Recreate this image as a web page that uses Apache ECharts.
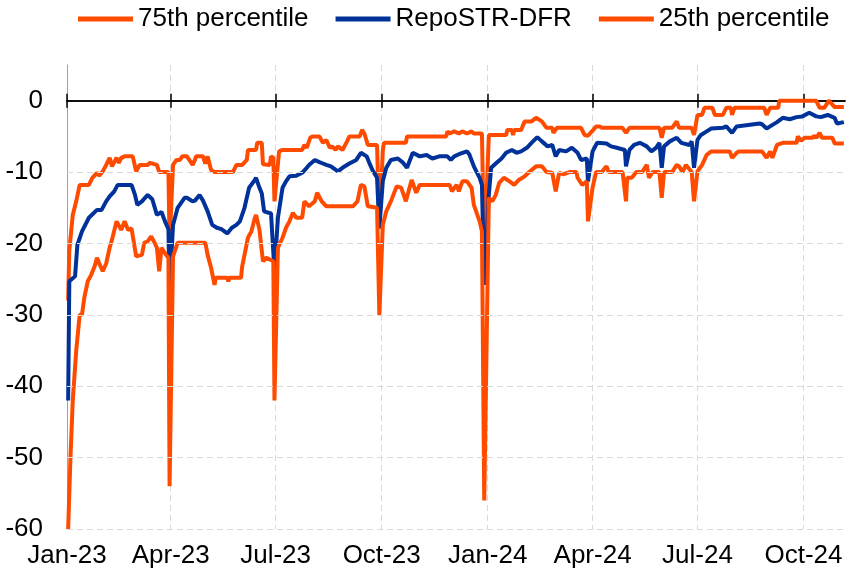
<!DOCTYPE html>
<html>
<head>
<meta charset="utf-8">
<script src="https://cdn.jsdelivr.net/npm/echarts@6/dist/echarts.min.js"></script>
<style>
  html, body { margin: 0; padding: 0; background: #fff; }
  #chart { width: 850px; height: 574px; }
</style>
</head>
<body>
<div id="chart"></div>
<script>
// series names (legend order)
var seriesNames = ['75th percentile', 'RepoSTR-DFR', '25th percentile'];
var monthNames = ['Jan','Feb','Mar','Apr','May','Jun','Jul','Aug','Sep','Oct','Nov','Dec'];
var quarterMonths = ['01', '04', '07', '10'];
var firstDay = '2023-01-01';
var lastDay = '2024-11-06';
var yGridValues = [-10, -20, -30, -40, -50, -60];

// 75th percentile, basis points
var p75 = [
	['2023-01-02', -28], ['2023-01-03', -21], ['2023-01-06', -16], ['2023-01-09', -14.1], ['2023-01-12', -11.8],
	['2023-01-20', -11.8], ['2023-01-23', -10.8], ['2023-01-27', -10.1], ['2023-01-29', -10.5], ['2023-02-01', -9.9],
	['2023-02-04', -9], ['2023-02-07', -8], ['2023-02-09', -9.2], ['2023-02-13', -8], ['2023-02-15', -8.7],
	['2023-02-17', -8], ['2023-02-20', -7.8], ['2023-02-27', -7.8], ['2023-03-02', -9.9], ['2023-03-05', -9],
	['2023-03-12', -9], ['2023-03-14', -8.7], ['2023-03-20', -9], ['2023-03-22', -10], ['2023-03-30', -10],
	['2023-03-31', -20], ['2023-04-03', -9], ['2023-04-06', -8.3], ['2023-04-09', -8.3], ['2023-04-11', -7.8],
	['2023-04-15', -7.8], ['2023-04-20', -9], ['2023-04-22', -8.3], ['2023-04-23', -7.8], ['2023-04-29', -7.8],
	['2023-05-01', -8.8], ['2023-05-03', -7.8], ['2023-05-06', -9.7], ['2023-05-09', -10], ['2023-05-25', -10],
	['2023-05-28', -9], ['2023-06-02', -9], ['2023-06-06', -8.3], ['2023-06-07', -6.9], ['2023-06-14', -6.9],
	['2023-06-15', -5.9], ['2023-06-19', -5.9], ['2023-06-20', -8.9], ['2023-06-26', -9], ['2023-06-27', -7.8],
	['2023-06-29', -8], ['2023-06-30', -14.1], ['2023-07-04', -7.1], ['2023-07-07', -6.9], ['2023-07-24', -6.9],
	['2023-07-26', -6.2], ['2023-07-28', -6.6], ['2023-07-31', -5.2], ['2023-08-02', -5], ['2023-08-08', -5],
	['2023-08-11', -5.9], ['2023-08-14', -5.5], ['2023-08-17', -6.6], ['2023-08-19', -6.4], ['2023-08-22', -6.9],
	['2023-08-24', -6.4], ['2023-08-28', -6.9], ['2023-09-01', -5.7], ['2023-09-03', -5], ['2023-09-12', -5],
	['2023-09-14', -4.1], ['2023-09-16', -4.6], ['2023-09-19', -6.2], ['2023-09-27', -6.2], ['2023-09-29', -18],
	['2023-10-02', -7], ['2023-10-03', -5.9], ['2023-10-22', -5.9], ['2023-10-23', -5], ['2023-11-26', -5],
	['2023-11-27', -4.3], ['2023-11-29', -4.6], ['2023-12-03', -4.3], ['2023-12-07', -4.6], ['2023-12-10', -4.3],
	['2023-12-14', -4.6], ['2023-12-18', -4.3], ['2023-12-20', -4.6], ['2023-12-27', -4.6], ['2023-12-29', -22],
	['2024-01-02', -4.8], ['2024-01-17', -4.8], ['2024-01-18', -4.1], ['2024-01-22', -4.1], ['2024-01-23', -4.8],
	['2024-01-24', -4.1], ['2024-01-30', -4.1], ['2024-02-02', -2.9], ['2024-02-08', -2.9], ['2024-02-12', -2.4],
	['2024-02-17', -2.9], ['2024-02-21', -3.8], ['2024-02-26', -3.8], ['2024-02-27', -4.5], ['2024-03-01', -3.8],
	['2024-03-22', -3.8], ['2024-03-25', -4.8], ['2024-03-28', -4.9], ['2024-04-01', -4.2], ['2024-04-04', -3.6],
	['2024-04-07', -3.6], ['2024-04-09', -3.8], ['2024-04-27', -3.8], ['2024-04-30', -4.5], ['2024-05-03', -3.8],
	['2024-05-29', -3.8], ['2024-05-31', -5.2], ['2024-06-02', -3.8], ['2024-06-09', -3.8], ['2024-06-13', -2.9],
	['2024-06-15', -3.8], ['2024-06-26', -3.8], ['2024-06-28', -4.8], ['2024-07-01', -2], ['2024-07-05', -2],
	['2024-07-07', -1], ['2024-07-14', -1], ['2024-07-16', -2], ['2024-07-23', -2], ['2024-07-26', -1],
	['2024-07-30', -1], ['2024-07-31', -2], ['2024-08-02', -1], ['2024-08-28', -1], ['2024-08-30', -2],
	['2024-09-02', -1], ['2024-09-09', -1], ['2024-09-10', 0], ['2024-10-12', 0], ['2024-10-15', -1],
	['2024-10-19', -1], ['2024-10-23', 0], ['2024-10-28', -0.9], ['2024-11-05', -0.9]
];

// RepoSTR minus deposit facility rate
var repo = [
	['2023-01-02', -42], ['2023-01-03', -25.3], ['2023-01-08', -24.6], ['2023-01-10', -20.2], ['2023-01-14', -18.3],
	['2023-01-20', -16.4], ['2023-01-27', -15.3], ['2023-01-31', -15.3], ['2023-02-04', -14.1], ['2023-02-07', -13.4],
	['2023-02-11', -12.7], ['2023-02-14', -11.8], ['2023-02-26', -11.8], ['2023-03-01', -13.2], ['2023-03-03', -14.6],
	['2023-03-07', -14.1], ['2023-03-12', -13.2], ['2023-03-16', -13.8], ['2023-03-20', -16], ['2023-03-24', -15.6],
	['2023-03-27', -16.9], ['2023-03-30', -18], ['2023-03-31', -26.5], ['2023-04-03', -17.4], ['2023-04-07', -15],
	['2023-04-13', -13.6], ['2023-04-15', -13.6], ['2023-04-20', -14.1], ['2023-04-22', -14], ['2023-04-26', -13.2],
	['2023-04-29', -14], ['2023-05-03', -15.5], ['2023-05-07', -17.4], ['2023-05-11', -17.8], ['2023-05-15', -18],
	['2023-05-20', -18.6], ['2023-05-24', -17.8], ['2023-05-28', -17.4], ['2023-05-31', -16.9], ['2023-06-04', -15],
	['2023-06-08', -12.2], ['2023-06-13', -11.1], ['2023-06-14', -10.8], ['2023-06-17', -12.2], ['2023-06-19', -13],
	['2023-06-21', -15.5], ['2023-06-27', -15.8], ['2023-06-30', -23.9], ['2023-07-03', -16.4], ['2023-07-07', -12.2],
	['2023-07-10', -11.3], ['2023-07-13', -10.6], ['2023-07-19', -10.5], ['2023-07-24', -10.1], ['2023-07-28', -9.4],
	['2023-07-30', -9], ['2023-08-04', -8.3], ['2023-08-08', -8.6], ['2023-08-11', -8.8], ['2023-08-14', -9],
	['2023-08-18', -9.2], ['2023-08-24', -9.9], ['2023-08-28', -9.4], ['2023-09-03', -8.8], ['2023-09-09', -8.3],
	['2023-09-13', -7.3], ['2023-09-18', -7.8], ['2023-09-20', -8.6], ['2023-09-23', -9.7], ['2023-09-27', -10.8],
	['2023-09-29', -17.8], ['2023-10-02', -11.3], ['2023-10-05', -9.4], ['2023-10-09', -8.3], ['2023-10-15', -8.1],
	['2023-10-19', -8.6], ['2023-10-23', -9.4], ['2023-10-28', -7.3], ['2023-11-03', -7.8], ['2023-11-09', -7.6],
	['2023-11-14', -8.1], ['2023-11-20', -7.8], ['2023-11-27', -7.8], ['2023-11-30', -8.3], ['2023-12-03', -7.8],
	['2023-12-07', -7.5], ['2023-12-14', -7.1], ['2023-12-16', -7.5], ['2023-12-20', -9.2], ['2023-12-25', -10.8],
	['2023-12-27', -11.8], ['2023-12-29', -25.8], ['2024-01-02', -13.2], ['2024-01-04', -9.4], ['2024-01-08', -8.8],
	['2024-01-13', -8.1], ['2024-01-17', -7.3], ['2024-01-22', -6.9], ['2024-01-26', -7.3], ['2024-01-30', -7.1],
	['2024-02-04', -6.6], ['2024-02-08', -5.9], ['2024-02-13', -5.1], ['2024-02-17', -5.7], ['2024-02-22', -6.4],
	['2024-02-26', -6.2], ['2024-02-29', -7.8], ['2024-03-03', -6.9], ['2024-03-09', -7.1], ['2024-03-14', -6.6],
	['2024-03-19', -7.3], ['2024-03-22', -8.3], ['2024-03-27', -8.1], ['2024-03-28', -11.3], ['2024-04-01', -7.1],
	['2024-04-05', -5.9], ['2024-04-13', -6], ['2024-04-17', -6.4], ['2024-04-22', -6.6], ['2024-04-29', -6.9],
	['2024-04-30', -9.2], ['2024-05-03', -6.9], ['2024-05-07', -6.2], ['2024-05-12', -5.9], ['2024-05-18', -6.4],
	['2024-05-22', -7.1], ['2024-05-26', -6.6], ['2024-05-29', -5.9], ['2024-05-31', -9.4], ['2024-06-02', -6.4],
	['2024-06-07', -5.7], ['2024-06-13', -5.2], ['2024-06-17', -5.9], ['2024-06-24', -6.2], ['2024-06-26', -5.7],
	['2024-06-28', -9.4], ['2024-07-01', -5.5], ['2024-07-04', -4.8], ['2024-07-09', -4.3], ['2024-07-13', -3.9],
	['2024-07-23', -3.8], ['2024-07-26', -3.6], ['2024-07-31', -4.5], ['2024-08-04', -3.6], ['2024-08-24', -3.2],
	['2024-08-26', -3.3], ['2024-08-30', -3.9], ['2024-09-02', -3.6], ['2024-09-08', -3], ['2024-09-13', -2.4],
	['2024-09-19', -2.6], ['2024-09-25', -2.3], ['2024-09-30', -2.2], ['2024-10-06', -1.7], ['2024-10-12', -2.2],
	['2024-10-16', -2.3], ['2024-10-22', -2], ['2024-10-28', -2.4], ['2024-10-30', -3.2], ['2024-11-05', -3]
];

// 25th percentile
var p25 = [
	['2023-01-02', -60], ['2023-01-04', -50], ['2023-01-06', -42], ['2023-01-09', -35], ['2023-01-12', -30],
	['2023-01-14', -30], ['2023-01-16', -27.6], ['2023-01-19', -25.3], ['2023-01-22', -24.4], ['2023-01-25', -23.2],
	['2023-01-27', -22], ['2023-01-29', -22.8], ['2023-02-01', -23.9], ['2023-02-04', -22.8], ['2023-02-07', -20.6],
	['2023-02-09', -19.5], ['2023-02-13', -16.9], ['2023-02-17', -18.1], ['2023-02-20', -16.9], ['2023-02-23', -18.1],
	['2023-02-26', -17.9], ['2023-03-02', -21.8], ['2023-03-07', -21.6], ['2023-03-09', -19.9], ['2023-03-12', -19.7],
	['2023-03-15', -19], ['2023-03-18', -19.9], ['2023-03-20', -20.6], ['2023-03-22', -23.9], ['2023-03-24', -20.6],
	['2023-03-28', -21.6], ['2023-03-30', -22], ['2023-03-31', -54], ['2023-04-03', -21.8], ['2023-04-07', -19.9],
	['2023-05-01', -19.9], ['2023-05-03', -21.6], ['2023-05-06', -23.4], ['2023-05-09', -25.8], ['2023-05-10', -24.8],
	['2023-05-20', -24.8], ['2023-05-21', -25.3], ['2023-05-22', -24.8], ['2023-06-01', -24.8], ['2023-06-02', -23.2],
	['2023-06-07', -19.2], ['2023-06-10', -18.3], ['2023-06-13', -16.4], ['2023-06-14', -16], ['2023-06-17', -18.1],
	['2023-06-20', -22.5], ['2023-06-23', -22], ['2023-06-29', -22.5], ['2023-06-30', -42], ['2023-07-03', -20.6],
	['2023-07-07', -19.2], ['2023-07-10', -17.8], ['2023-07-13', -16.9], ['2023-07-16', -15.7], ['2023-07-19', -16.4],
	['2023-07-24', -16.4], ['2023-07-26', -14.1], ['2023-07-30', -14.8], ['2023-08-04', -14.1], ['2023-08-06', -12.9],
	['2023-08-10', -14.1], ['2023-08-14', -14.8], ['2023-09-06', -14.8], ['2023-09-10', -14.1], ['2023-09-13', -11.8],
	['2023-09-16', -12], ['2023-09-19', -14.8], ['2023-09-27', -15], ['2023-09-29', -30], ['2023-10-02', -17.4],
	['2023-10-05', -15.5], ['2023-10-09', -14.1], ['2023-10-14', -12], ['2023-10-18', -12.2], ['2023-10-22', -14.1],
	['2023-10-27', -11.1], ['2023-10-31', -12.9], ['2023-11-03', -11.8], ['2023-11-29', -11.8], ['2023-12-01', -12.7],
	['2023-12-05', -11.8], ['2023-12-07', -12.7], ['2023-12-10', -11.3], ['2023-12-14', -11.3], ['2023-12-18', -12.2],
	['2023-12-20', -14.6], ['2023-12-25', -16.9], ['2023-12-27', -18.3], ['2023-12-29', -56], ['2024-01-02', -13.6],
	['2024-01-05', -14.1], ['2024-01-08', -13.2], ['2024-01-11', -11.5], ['2024-01-15', -10.8], ['2024-01-20', -11.3],
	['2024-01-24', -11.8], ['2024-01-28', -11.1], ['2024-02-02', -10.6], ['2024-02-06', -10], ['2024-02-12', -9.2],
	['2024-02-17', -9.2], ['2024-02-21', -10], ['2024-02-26', -10.1], ['2024-02-29', -12.7], ['2024-03-03', -10.1],
	['2024-03-07', -10.3], ['2024-03-12', -10], ['2024-03-18', -10], ['2024-03-19', -10.8], ['2024-03-23', -11.8],
	['2024-03-27', -11.3], ['2024-03-28', -16.9], ['2024-04-01', -12.2], ['2024-04-04', -10], ['2024-04-09', -10],
	['2024-04-13', -9.2], ['2024-04-15', -10], ['2024-04-27', -10], ['2024-04-30', -14.1], ['2024-05-01', -10.8],
	['2024-05-05', -10.8], ['2024-05-09', -10], ['2024-05-14', -10], ['2024-05-18', -9], ['2024-05-20', -10.8],
	['2024-05-23', -10], ['2024-05-29', -10], ['2024-05-31', -13.6], ['2024-06-02', -10], ['2024-06-09', -10],
	['2024-06-13', -9], ['2024-06-15', -9.2], ['2024-06-18', -10], ['2024-06-21', -9], ['2024-06-26', -10],
	['2024-06-28', -14.1], ['2024-07-01', -9.9], ['2024-07-05', -9], ['2024-07-09', -7.6], ['2024-07-13', -7.1],
	['2024-07-29', -7.1], ['2024-07-31', -8], ['2024-08-04', -7.3], ['2024-08-06', -7.1], ['2024-08-26', -7.1],
	['2024-08-30', -8], ['2024-09-02', -7.1], ['2024-09-04', -8], ['2024-09-08', -6.2], ['2024-09-13', -5.9],
	['2024-09-25', -5.9], ['2024-09-26', -5], ['2024-09-29', -5.6], ['2024-10-02', -5.2], ['2024-10-09', -5.2],
	['2024-10-10', -4.9], ['2024-10-12', -5.2], ['2024-10-15', -4.5], ['2024-10-17', -5.2], ['2024-10-26', -5.2],
	['2024-10-28', -6], ['2024-11-05', -6]
];

// every calendar day -> category axis
function dayList(a, b){
	var out = [], t = Date.parse(a + 'T00:00:00Z'), end = Date.parse(b + 'T00:00:00Z');
	for (; t <= end; t += 86400000) out.push(new Date(t).toISOString().slice(0, 10));
	return out;
}
var days = dayList(firstDay, lastDay);
var dayIndex = {};
days.forEach(function(d, i){ dayIndex[d] = i; });

function toSeries(points){
	var arr = days.map(function(){ return null; });
	points.forEach(function(p){ arr[dayIndex[p[0]]] = p[1]; });
	return arr;
}
function isQuarterStart(i, v){ return v.slice(8) === '01' && quarterMonths.indexOf(v.slice(5, 7)) >= 0; }
function quarterLabel(v){ return monthNames[+v.slice(5, 7) - 1] + '-' + v.slice(2, 4); }

var FONT = "'Liberation Sans', Arial, sans-serif";
var ORANGE = '#FF4B00', BLUE = '#003299';

function lineSeries(name, color, pts){
	return {
		name: name, type: 'line', data: toSeries(pts), connectNulls: true,
		showSymbol: false, symbol: 'none', z: 3,
		lineStyle: { color: color, width: 4 }, itemStyle: { color: color }
	};
}

var chart = echarts.init(document.getElementById('chart'), null, { renderer: 'canvas' });
var option = {
	animation: false,
	backgroundColor: '#fff',
	textStyle: { fontFamily: FONT },
	legend: {
		data: seriesNames, left: 73, top: 1, icon: 'rect', itemWidth: 55, itemHeight: 5, itemGap: 27,
		textStyle: { fontSize: 26, color: '#000', fontFamily: FONT }
	},
	grid: { left: 67, right: 5, top: 65, bottom: 45, containLabel: false, outerBoundsMode: 'none' },
	xAxis: [
		{	// bottom labels + vertical dashed grid
			type: 'category', data: days, boundaryGap: false, position: 'bottom',
			axisLine: { show: false, onZero: false }, axisTick: { show: false },
			axisLabel: { interval: isQuarterStart, formatter: quarterLabel, fontSize: 26, color: '#000', margin: 14, fontFamily: FONT },
			splitLine: { show: true, interval: isQuarterStart, lineStyle: { color: '#d9d9d9', type: [6, 4], width: 1 } }
		},
		{	// zero line, ticks downward
			type: 'category', data: days, boundaryGap: false, position: 'bottom',
			axisLine: { show: true, onZero: true, onZeroAxisIndex: 0, lineStyle: { color: '#000', width: 1.5 } },
			axisTick: { show: true, interval: isQuarterStart, length: 7, lineStyle: { color: '#000', width: 1.5 } },
			axisLabel: { show: false }, splitLine: { show: false }
		},
		{	// zero line, ticks upward
			type: 'category', data: days, boundaryGap: false, position: 'top',
			axisLine: { show: true, onZero: true, onZeroAxisIndex: 0, lineStyle: { color: '#000', width: 1.5 } },
			axisTick: { show: true, interval: isQuarterStart, length: 7, lineStyle: { color: '#000', width: 1.5 } },
			axisLabel: { show: false }, splitLine: { show: false }
		}
	],
	yAxis: {
		type: 'value', min: -60, max: 5, interval: 10,
		axisLine: { show: true, lineStyle: { color: '#a0a0a0', width: 1 } },
		axisTick: { show: false },
		axisLabel: { fontSize: 26, color: '#000', margin: 24, showMaxLabel: false, fontFamily: FONT },
		splitLine: { show: false }
	},
	series: [
		{	// horizontal dashed grid
			name: 'grid', type: 'line', data: [], z: 1, silent: true,
			markLine: {
				silent: true, symbol: ['none', 'none'], label: { show: false },
				lineStyle: { color: '#d9d9d9', type: [6, 4], width: 1 },
				data: yGridValues.map(function(v){ return { yAxis: v }; })
			}
		},
		lineSeries(seriesNames[0], ORANGE, p75),
		lineSeries(seriesNames[1], BLUE, repo),
		lineSeries(seriesNames[2], ORANGE, p25)
	]
};
chart.setOption(option);
</script>
</body>
</html>
